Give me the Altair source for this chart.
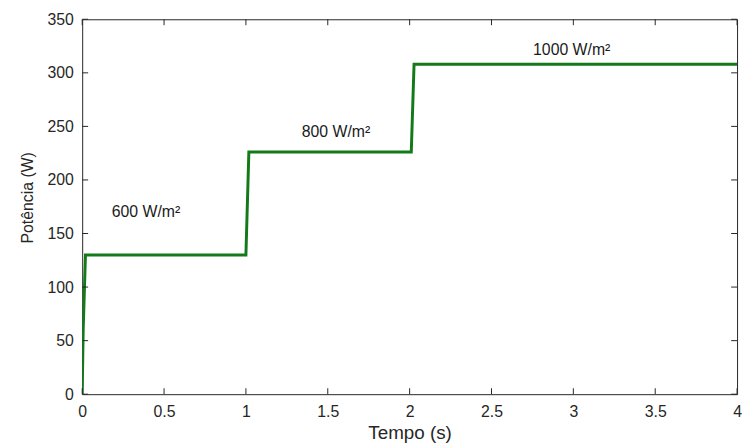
import altair as alt
import pandas as pd

# Data
tempo = [0.0, 0.006, 0.02, 1.0, 1.018, 2.01, 2.027, 4.0]
potencia = [0.0, 60.0, 130.0, 130.0, 226.0, 226.0, 308.0, 308.0]

label_t = [0.39, 1.55, 2.99]
label_p = [170.0, 245.0, 321.0]
label_text = ["600 W/m²", "800 W/m²", "1000 W/m²"]

x_ticks = [0, 0.5, 1, 1.5, 2, 2.5, 3, 3.5, 4]
y_ticks = [0, 50, 100, 150, 200, 250, 300, 350]

W, H = 662, 379
FONT = "Liberation Sans"
AX = "#262626"

line_df = pd.DataFrame({"t": tempo, "p": potencia})
lab_df = pd.DataFrame({"t": label_t, "p": label_p, "txt": label_text})
xt_df = pd.DataFrame({"v": x_ticks})
yt_df = pd.DataFrame({"v": y_ticks})

xscale = alt.Scale(domain=[0, 4], nice=False, zero=False)
yscale = alt.Scale(domain=[0, 350], nice=False)

x_axis = alt.Axis(values=x_ticks, format="~g", grid=False, domain=False, ticks=False,
                  labelFlush=False, labelFont=FONT, labelFontSize=16, labelColor=AX,
                  labelPadding=10,
                  title="Tempo (s)", titleFont=FONT, titleFontSize=19, titleFontWeight="normal",
                  titleColor=AX, titlePadding=4)
y_axis = alt.Axis(values=y_ticks, grid=False, domain=False, ticks=False,
                  labelFlush=False, labelFont=FONT, labelFontSize=16, labelColor=AX,
                  labelPadding=9,
                  title="Potência (W)", titleFont=FONT, titleFontSize=16, titleFontWeight="normal",
                  titleColor=AX, titlePadding=12, titleY=180)

line = alt.Chart(line_df).mark_line(color="#137a1a", strokeWidth=3, clip=True).encode(
    x=alt.X("t:Q", scale=xscale, axis=x_axis),
    y=alt.Y("p:Q", scale=yscale, axis=y_axis),
)

labels = alt.Chart(lab_df).mark_text(font=FONT, fontSize=16, color="#1a1a1a").encode(
    x=alt.X("t:Q", scale=xscale),
    y=alt.Y("p:Q", scale=yscale),
    text="txt:N",
)

tick_len = 6
xb = alt.Chart(xt_df).mark_rule(color=AX, strokeWidth=1).encode(
    x=alt.X("v:Q", scale=xscale), y=alt.value(H), y2=alt.value(H - tick_len))
xtop = alt.Chart(xt_df).mark_rule(color=AX, strokeWidth=1).encode(
    x=alt.X("v:Q", scale=xscale), y=alt.value(0), y2=alt.value(tick_len))
yl = alt.Chart(yt_df).mark_rule(color=AX, strokeWidth=1).encode(
    y=alt.Y("v:Q", scale=yscale), x=alt.value(0), x2=alt.value(tick_len))
yr = alt.Chart(yt_df).mark_rule(color=AX, strokeWidth=1).encode(
    y=alt.Y("v:Q", scale=yscale), x=alt.value(W), x2=alt.value(W - tick_len))

chart = alt.layer(line, labels, xb, xtop, yl, yr).properties(
    width=W, height=H,
    autosize=alt.AutoSizeParams(type="none"),
    padding={"left": 75, "top": 9, "right": 6, "bottom": 52},
    background="white",
).configure_view(stroke=AX, strokeWidth=1)

chart.save("out.html", embed_options={"renderer": "svg", "actions": False})
